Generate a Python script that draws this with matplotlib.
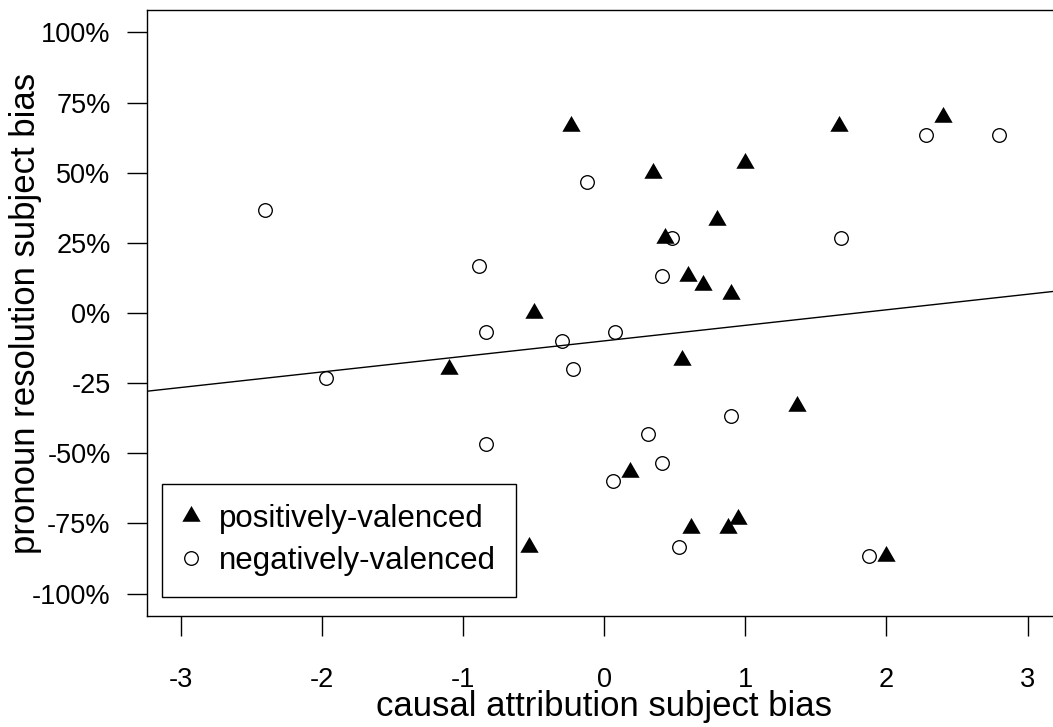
import matplotlib
matplotlib.use("Agg")
import matplotlib.pyplot as plt
from matplotlib.path import Path
import numpy as np

plt.rcParams['font.family'] = ['Liberation Sans', 'DejaVu Sans']
plt.rcParams['axes.unicode_minus'] = False

# positively-valenced verbs (filled triangles)
pos_x = [-0.234, -0.50, 0.349, 0.999, 1.664, 2.40, 0.798, 0.432, 0.597, 0.699,
         0.899, -1.098, -0.531, 0.55, 1.365, 0.184, 0.616, 0.88, 0.951, 1.997]
pos_y = [66.7, 0.0, 50.0, 53.3, 66.7, 70.0, 33.3, 26.7, 13.3, 10.0,
         6.7, -20.0, -83.3, -16.7, -33.3, -56.7, -76.7, -76.7, -73.3, -86.7]

# negatively-valenced verbs (open circles)
neg_x = [-2.40, -0.12, -0.885, -0.834, 2.28, 2.80, 0.484, 1.68, 0.413, -0.30,
         -0.217, -1.969, -0.836, 0.078, 0.897, 0.314, 0.413, 0.061, 0.529, 1.879]
neg_y = [36.7, 46.7, 16.7, -6.7, 63.3, 63.3, 26.7, 26.7, 13.3, -10.0,
         -20.0, -23.3, -46.7, -6.7, -36.7, -43.3, -53.3, -60.0, -83.3, -86.7]

# regression line (percent units)
fit_intercept = -9.95
fit_slope = 5.54

x_ticks = [-3, -2, -1, 0, 1, 2, 3]
x_ticklabels = ["-3", "-2", "-1", "0", "1", "2", "3"]
y_ticks = [-100, -75, -50, -25, 0, 25, 50, 75, 100]
y_ticklabels = ["-100%", "-75%", "-50%", "-25", "0%", "25%", "50%", "75%", "100%"]

tri = Path([(0, 1), (-0.8660254, -0.5), (0.8660254, -0.5), (0, 1)],
           [Path.MOVETO, Path.LINETO, Path.LINETO, Path.CLOSEPOLY])

fig = plt.figure(figsize=(10.53, 7.27), dpi=100)
ax = fig.add_axes([0.1393, 0.1527, 0.8688, 0.8336])

ax.axline((0, fit_intercept), slope=fit_slope, color='black', lw=1.0, zorder=1)
ax.plot(pos_x, pos_y, linestyle='none', marker=tri, markersize=15.2,
        color='black', markeredgewidth=0, label='positively-valenced', zorder=3)
ax.plot(neg_x, neg_y, linestyle='none', marker='o', markersize=9.8,
        markerfacecolor='none', markeredgecolor='black', markeredgewidth=0.95,
        label='negatively-valenced', zorder=3)

ax.set_xlim(-3.24, 3.24)
ax.set_ylim(-108, 108)

ax.set_xticks(x_ticks)
ax.set_xticklabels(x_ticklabels)
ax.set_yticks(y_ticks)
ax.set_yticklabels(y_ticklabels)

ax.tick_params(axis='both', direction='out', length=14.4, width=1.0,
               labelsize=19.5, colors='black')
ax.tick_params(axis='x', pad=22)
ax.tick_params(axis='y', pad=11.5)

for sp in ax.spines.values():
    sp.set_linewidth(1.0)
    sp.set_color('black')

ax.set_xlabel('causal attribution subject bias', fontsize=25)
ax.xaxis.set_label_coords(0.5, -0.165)
ax.xaxis.label.set_verticalalignment('baseline')
ax.set_ylabel('pronoun resolution subject bias', fontsize=25)
ax.yaxis.set_label_coords(-0.1221, 0.5)
ax.yaxis.label.set_verticalalignment('baseline')

leg = ax.legend(loc='lower left', bbox_to_anchor=(0.0164, 0.0318),
                borderaxespad=0, fontsize=22.5, frameon=True, fancybox=False,
                edgecolor='black', framealpha=1, borderpad=0.65,
                handlelength=0.55, handletextpad=0.62, labelspacing=0.4,
                markerscale=1.0)
leg.get_frame().set_linewidth(1.0)

fig.savefig('out.png', dpi=100)
